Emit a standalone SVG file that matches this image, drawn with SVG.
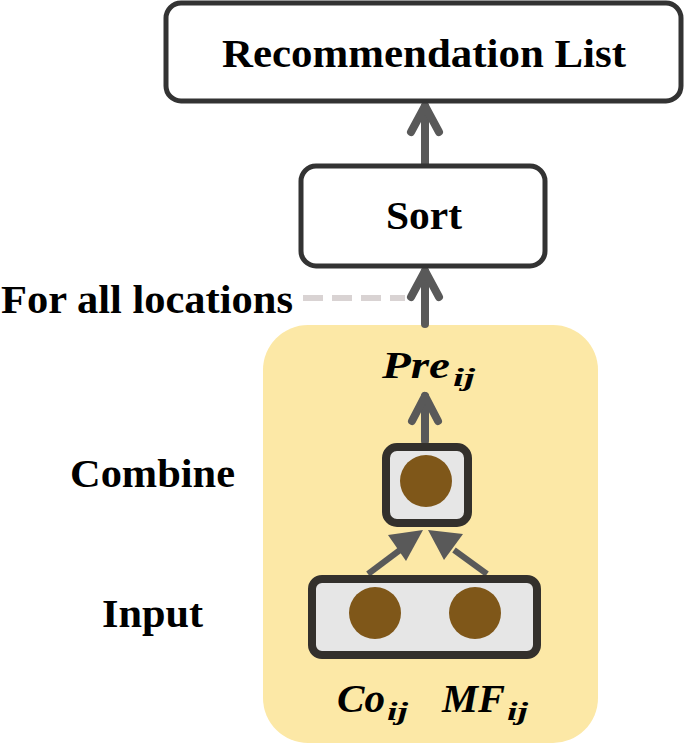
<svg xmlns="http://www.w3.org/2000/svg" width="685" height="748" viewBox="0 0 685 748">
<style>
.box{fill:#ffffff;stroke:#333333;stroke-width:5}
.cell{fill:#e6e6e6;stroke:#33302c;stroke-width:8}
.dot{fill:#7f5719}
.lbl{font-family:"Liberation Serif","Times New Roman",serif;font-weight:bold;fill:#000}
.math{font-family:"Liberation Serif","Times New Roman",serif;font-weight:bold;font-style:italic;fill:#000}
.arr{fill:none;stroke:#595959;stroke-width:8;stroke-linecap:round;stroke-linejoin:round}
.head{fill:#595959}
</style>
<rect x="0" y="0" width="685" height="748" fill="#ffffff"/>
<g id="region">
<rect x="263" y="325" width="335" height="418" rx="45" fill="#fce8a6"/>
</g>
<g id="connectors">
<line class="arr" x1="425" y1="164" x2="425" y2="106"/>
<polyline class="arr" points="411,132 425,106 439,132"/>
<line class="arr" x1="425" y1="324" x2="425" y2="271"/>
<polyline class="arr" points="411,297 425,271 439,297"/>
<line x1="303" y1="298" x2="405" y2="298" stroke="#d9d3d3" stroke-width="6" stroke-dasharray="20,9"/>
<line class="arr" x1="425" y1="441" x2="425" y2="396"/>
<polyline class="arr" points="412,421 425,396 438,421"/>
<line x1="368" y1="574" x2="400" y2="550" stroke="#595959" stroke-width="6"/>
<polygon class="head" points="423,530 388,535 406,561"/>
<line x1="487" y1="574" x2="454" y2="550" stroke="#595959" stroke-width="6"/>
<polygon class="head" points="428,530 444,560 463,534"/>
</g>
<g id="rec-list">
<rect class="box" x="166" y="3" width="515" height="98" rx="15"/>
<text class="lbl" x="424" y="67" font-size="40" text-anchor="middle" textLength="404" lengthAdjust="spacingAndGlyphs">Recommendation List</text>
</g>
<g id="sort">
<rect class="box" x="301" y="166" width="244" height="100" rx="15"/>
<text class="lbl" x="424" y="229" font-size="41" text-anchor="middle" textLength="76" lengthAdjust="spacingAndGlyphs">Sort</text>
</g>
<g id="for-all">
<text class="lbl" x="1" y="313" font-size="41" textLength="292" lengthAdjust="spacingAndGlyphs">For all locations</text>
</g>
<g id="pre">
<text class="math" x="382" y="378" font-size="37" textLength="68" lengthAdjust="spacingAndGlyphs">Pre</text>
<text class="math" x="453" y="386" font-size="25" textLength="22" lengthAdjust="spacingAndGlyphs">ij</text>
</g>
<g id="combine">
<rect class="cell" x="386" y="447" width="82" height="76" rx="11"/>
<circle class="dot" cx="426" cy="481" r="26"/>
<text class="lbl" x="70" y="487" font-size="40" textLength="165" lengthAdjust="spacingAndGlyphs">Combine</text>
</g>
<g id="input">
<rect class="cell" x="312" y="579" width="225" height="76" rx="10"/>
<circle class="dot" cx="375" cy="613" r="26"/>
<circle class="dot" cx="475" cy="613" r="26"/>
<text class="lbl" x="102" y="627" font-size="40" textLength="101" lengthAdjust="spacingAndGlyphs">Input</text>
</g>
<g id="co">
<text class="math" x="337" y="712" font-size="39" textLength="48" lengthAdjust="spacingAndGlyphs">Co</text>
<text class="math" x="387" y="720" font-size="25" textLength="21" lengthAdjust="spacingAndGlyphs">ij</text>
</g>
<g id="mf">
<text class="math" x="442" y="712" font-size="39" textLength="63" lengthAdjust="spacingAndGlyphs">MF</text>
<text class="math" x="507" y="720" font-size="25" textLength="21" lengthAdjust="spacingAndGlyphs">ij</text>
</g>
</svg>
